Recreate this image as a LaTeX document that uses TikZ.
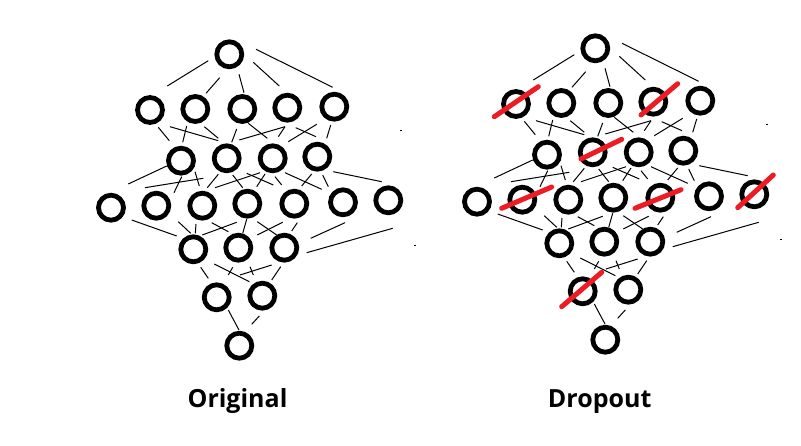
\documentclass[tikz,border=0pt]{standalone}
\usepackage{fontspec}
\setsansfont{Open Sans}
\definecolor{paintred}{RGB}{237,28,36}
\tikzset{
  neuron/.style={circle, draw=black, line width=4.8pt, minimum size=25pt, inner sep=0pt},
  wire/.style={black, line width=1pt},
  strike/.style={paintred, line width=5pt, line cap=round},
  caption/.style={font=\sffamily\bfseries\fontsize{25}{30}\selectfont, anchor=base, inner sep=0pt}
}
\newcommand{\mynet}{%
  % neurons
  \node[neuron] (a1) at (229.3,54.3) {};
  \foreach \x/\y [count=\i] in {150/110,195.3/109,242.3/109,287.3/107.7,334.3/106.7}
    \node[neuron] (b\i) at (\x,\y) {};
  \foreach \x/\y [count=\i] in {181/160.7,226.7/158.3,272.7/158.3,317.3/156.7}
    \node[neuron] (c\i) at (\x,\y) {};
  \foreach \x/\y [count=\i] in {111/207.7,156.3/205.7,202.3/205.7,247.3/203.7,294.3/203.7,343/202.3,388.3/200.3}
    \node[neuron] (d\i) at (\x,\y) {};
  \foreach \x/\y [count=\i] in {193.3/249.3,238.3/247.7,284.3/247.7}
    \node[neuron] (e\i) at (\x,\y) {};
  \foreach \x/\y [count=\i] in {216.7/297.3,262.3/295.7}
    \node[neuron] (f\i) at (\x,\y) {};
  \node[neuron] (g1) at (239.3,345.7) {};
  % wires
  \foreach \xa/\ya/\xb/\yb in {
    208.3/60.7/167.3/86, 219.7/77.7/206/93.3, 239/74.3/244/92.7, 253.3/62.3/279.3/86, 256/49.3/332.7/87.3,
    158.3/127.3/169.3/140.7, 170/126.7/218.3/140.7, 186.7/126/182.7/142.3, 204.3/126.7/218.3/138.3,
    236.7/129/231.7/142.3, 248.3/123.3/267.3/138.3, 239.3/140/285/126.7, 285/126.7/278.3/136.7,
    288.3/141.7/316.7/124.3, 295.7/127.7/316/136.7, 330.7/125/326.7/138.3,
    128.3/184/166.7/166, 145/187.7/203.3/178.3, 181.7/176.7/174/192.7, 195/171.7/199.3/186,
    218.3/174.3/207.3/187.7, 215/187.7/260/172.7, 232.7/175/242.7/187.7, 246.7/173.3/273.3/185,
    265/174/256.7/186.7, 275/176.7/281.7/185, 285/172.7/321.7/189.3, 311.7/174/301.7/186,
    322.7/175/328.3/186.7, 333.3/171.7/381.7/181.7,
    131.7/220/176.7/236, 178.3/221.7/190.7/233.3, 196/224/195.3/233.3, 202.3/235/236.7/222.3,
    211.7/222.7/228.3/231.7, 246.7/219.3/242.7/233.3, 257.3/221.7/276.7/235, 257.3/235/282.7/222.3,
    297.3/222.7/291.7/231, 310.7/238.3/345/222.7, 306.7/252.7/392.7/228.3,
    200.7/267.3/208.3/278.3, 214.3/264/249.3/281.7, 232.7/267.3/228.3/275, 240/275/271.7/265,
    250/266.7/253.3/275, 280.7/266.7/271.7/280,
    228.3/310/239/330, 259.3/316/251.7/324.3}
    \draw[wire] (\xa,\ya) -- (\xb,\yb);
  % stray specks
  \fill[black] (400,130) rectangle (402,131.5);
  \fill[black] (414,245) rectangle (416,246.5);
}
\begin{document}
\begin{tikzpicture}[x=1pt,y=-1pt]
  \fill[white] (0,0) rectangle (801,446);
  \useasboundingbox (0,0) rectangle (801,446);
  \begin{scope}[name prefix=L-]
    \mynet
  \end{scope}
  \begin{scope}[shift={(366,-6)}, name prefix=R-]
    \mynet
  \end{scope}
  % dropout strikes
  \draw[strike] (494.3,116.7) -- (538.3,86.7);
  \draw[strike] (641,115) -- (677.7,83.7);
  \draw[strike] (581,159) -- (621.7,139.3);
  \draw[strike] (501.7,208.3) -- (551.7,187);
  \draw[strike] (635,208.3) -- (681,189.7);
  \draw[strike] (737.7,207.7) -- (773.3,175);
  \draw[strike] (561.7,306.7) -- (601.7,272.3);
  % captions
  \node[caption] (orig) at (237.5,408) {Original};
  \node[caption] (drop) at (599.7,408) {Dropout};
\end{tikzpicture}
\end{document}
